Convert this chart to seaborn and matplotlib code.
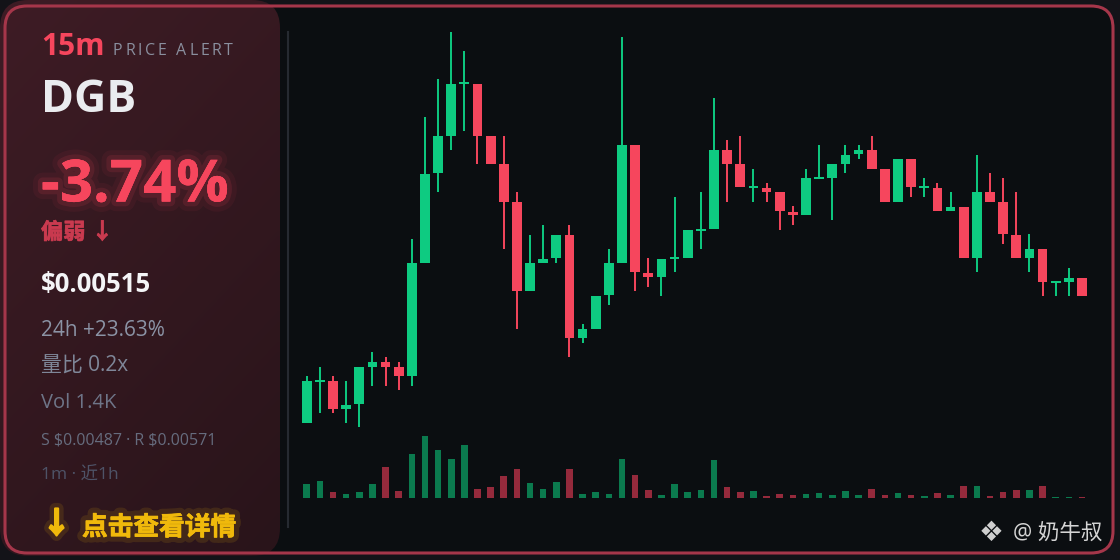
import numpy as np
import pandas as pd
import seaborn as sns
import matplotlib.pyplot as plt
import matplotlib.patheffects as pe
from matplotlib import font_manager as fm
from matplotlib.patches import FancyBboxPatch

# 60 根 15m K线 (开/高/低/收) 与成交量
opens = [0.004832, 0.004936, 0.004938, 0.004868, 0.004879, 0.004973, 0.004984, 0.004972, 0.004950, 0.005233,
         0.005457, 0.005551, 0.005679, 0.005680, 0.005550, 0.005479, 0.005385, 0.005162, 0.005233, 0.005245,
         0.005302, 0.005045, 0.005068, 0.005152, 0.005233, 0.005527, 0.005208, 0.005198, 0.005242, 0.005245,
         0.005313, 0.005317, 0.005515, 0.005480, 0.005419, 0.005421, 0.005409, 0.005361, 0.005352, 0.005442,
         0.005446, 0.005480, 0.005504, 0.005515, 0.005468, 0.005386, 0.005492, 0.005420, 0.005421, 0.005362,
         0.005373, 0.005245, 0.005409, 0.005386, 0.005302, 0.005245, 0.005268, 0.005183, 0.005186, 0.005196]
highs = [0.004950, 0.004973, 0.004950, 0.004938, 0.004973, 0.005009, 0.004997, 0.004984, 0.005292, 0.005598,
         0.005692, 0.005810, 0.005762, 0.005680, 0.005550, 0.005550, 0.005409, 0.005302, 0.005327, 0.005302,
         0.005327, 0.005080, 0.005150, 0.005268, 0.005798, 0.005527, 0.005245, 0.005243, 0.005398, 0.005314,
         0.005409, 0.005645, 0.005539, 0.005551, 0.005468, 0.005432, 0.005409, 0.005374, 0.005468, 0.005527,
         0.005480, 0.005527, 0.005527, 0.005551, 0.005468, 0.005492, 0.005492, 0.005444, 0.005432, 0.005409,
         0.005373, 0.005503, 0.005457, 0.005444, 0.005409, 0.005304, 0.005268, 0.005184, 0.005221, 0.005196]
lows = [0.004832, 0.004857, 0.004858, 0.004832, 0.004822, 0.004926, 0.004926, 0.004915, 0.004926, 0.005233,
        0.005409, 0.005515, 0.005563, 0.005480, 0.005480, 0.005268, 0.005068, 0.005162, 0.005233, 0.005233,
        0.004997, 0.005033, 0.005068, 0.005127, 0.005233, 0.005162, 0.005173, 0.005150, 0.005210, 0.005245,
        0.005268, 0.005317, 0.005386, 0.005422, 0.005386, 0.005386, 0.005315, 0.005327, 0.005352, 0.005442,
        0.005339, 0.005457, 0.005492, 0.005468, 0.005386, 0.005386, 0.005398, 0.005398, 0.005362, 0.005362,
        0.005245, 0.005209, 0.005386, 0.005281, 0.005245, 0.005209, 0.005150, 0.005150, 0.005150, 0.005150]
closes = [0.004938, 0.004937, 0.004868, 0.004878, 0.004973, 0.004984, 0.004973, 0.004950, 0.005232, 0.005456,
          0.005550, 0.005680, 0.005680, 0.005551, 0.005480, 0.005386, 0.005162, 0.005232, 0.005243, 0.005302,
          0.005045, 0.005067, 0.005150, 0.005232, 0.005527, 0.005210, 0.005198, 0.005243, 0.005243, 0.005314,
          0.005314, 0.005515, 0.005480, 0.005422, 0.005420, 0.005411, 0.005362, 0.005352, 0.005444, 0.005443,
          0.005480, 0.005503, 0.005515, 0.005468, 0.005386, 0.005492, 0.005422, 0.005421, 0.005362, 0.005373,
          0.005245, 0.005409, 0.005386, 0.005304, 0.005245, 0.005268, 0.005186, 0.005184, 0.005196, 0.005150]
volumes = [137, 163, 53, 37, 57, 137, 307, 63, 437, 617, 473, 383, 523, 83, 110, 213, 287, 150, 83, 153,
           287, 37, 53, 37, 383, 227, 80, 27, 140, 53, 73, 377, 103, 53, 63, 13, 37, 23, 40, 43,
           27, 67, 30, 87, 27, 47, 27, 17, 47, 27, 113, 120, 17, 60, 73, 73, 120, 7, 10, 7]

# 左侧信息栏文字
interval = '15m'
alert_label = 'PRICE ALERT'
symbol = 'DGB'
change_text = '-3.74%'
mood_text = '偏弱 ↓'
price_text = '$0.00515'
info_lines = ['24h +23.63%', '量比 0.2x', 'Vol 1.4K', 'S $0.00487 · R $0.00571', '1m · 近1h']
cta_text = '点击查看详情'
watermark = '@ 奶牛叔'

UP = '#0ecb81'
DOWN = '#f6465d'
VOL_UP = '#0b7a4e'
VOL_DOWN = '#952a3c'
YELLOW = '#f0b90b'

sns.set_theme(style='dark', rc={'axes.facecolor': '#0b0e11', 'figure.facecolor': '#131318'})


def has_bold(name):
    for f in fm.fontManager.ttflist:
        if f.name != name:
            continue
        w = f.weight if isinstance(f.weight, int) else fm.weight_dict.get(f.weight, 400)
        if w >= 600:
            return True
    return False


latin = next((n for n in ['Noto Sans', 'Open Sans', 'Roboto', 'Lato', 'DejaVu Sans'] if has_bold(n)), 'DejaVu Sans')
cjk_bold = has_bold('Noto Sans CJK SC')
plt.rcParams['font.family'] = [latin, 'Noto Sans CJK SC', 'DejaVu Sans']
plt.rcParams['text.parse_math'] = False

df = pd.DataFrame({'open': opens, 'high': highs, 'low': lows, 'close': closes, 'vol': volumes})
df['idx'] = np.arange(len(df))
df['dir'] = np.where(df['close'] >= df['open'], 'up', 'down')
pal = {'up': UP, 'down': DOWN}
vpal = {'up': VOL_UP, 'down': VOL_DOWN}

W, H = 1120, 560
fig = plt.figure(figsize=(W / 100, H / 100), dpi=100)

# 背景层（像素坐标）
bg = fig.add_axes([0, 0, 1, 1])
bg.set_xlim(0, W)
bg.set_ylim(H, 0)
bg.axis('off')

inner = FancyBboxPatch((5, 6), 1108, 547, boxstyle='round,pad=0,rounding_size=22',
                       fc='#0b0e11', ec='none', zorder=0)
bg.add_patch(inner)

panel = FancyBboxPatch((0, 0), 280, 556, boxstyle='round,pad=0,rounding_size=28',
                       fc='none', ec='none', zorder=1)
bg.add_patch(panel)
gx, gy = np.meshgrid(np.linspace(0, 1, 60), np.linspace(0, 1, 120))
t = 0.35 * gx + 0.65 * gy
c0 = np.array([0x3e, 0x1c, 0x25]) / 255
c1 = np.array([0x29, 0x14, 0x1a]) / 255
grad = c0[None, None, :] * (1 - t[..., None]) + c1[None, None, :] * t[..., None]
im = bg.imshow(grad, extent=[0, 280, 556, 0], aspect='auto', zorder=1, interpolation='bilinear')
im.set_clip_path(panel)
bg.set_xlim(0, W)
bg.set_ylim(H, 0)

border = FancyBboxPatch((5, 6), 1108, 547, boxstyle='round,pad=0,rounding_size=22',
                        fc='none', ec='#a5364a', lw=2.2, zorder=5)
bg.add_patch(border)


def faux_bold(color, extra=None):
    # 中文字体没有粗体时用细描边加粗
    eff = list(extra or [])
    if not cjk_bold:
        eff.append(pe.withStroke(linewidth=0.5, foreground=color))
    else:
        eff.append(pe.Normal())
    return eff


# 文字
bg.text(41, 55, interval, fontsize=21.5, fontweight='bold', color=DOWN, zorder=6)

renderer = fig.canvas.get_renderer()


def tracked(x, y, s, end_x, **kw):
    # 逐字放置，模拟字间距
    widths = []
    for ch in s:
        tt = bg.text(0, 0, ch, **kw)
        widths.append(tt.get_window_extent(renderer).width if ch != ' ' else kw['fontsize'] * 0.35)
        tt.remove()
    gap = (end_x - x - sum(widths)) / (len(s) - 1)
    cx = x
    for ch, w in zip(s, widths):
        bg.text(cx, y, ch, zorder=6, **kw)
        cx += w + gap


tracked(113, 55, alert_label, 233, fontsize=11.5, color='#8a8f9e')

bg.text(41, 111.5, symbol, fontsize=32, fontweight='bold', color='#eaecef', zorder=6)
bg.text(41, 201.5, change_text, fontsize=42, fontweight='bold', color=DOWN, zorder=6,
        path_effects=[pe.withStroke(linewidth=14, foreground=DOWN, alpha=0.06),
                      pe.withStroke(linewidth=7, foreground=DOWN, alpha=0.12),
                      pe.Normal()])
bg.text(41, 239, mood_text, fontsize=16, fontweight='bold', color='#c93a4f', zorder=6,
        path_effects=faux_bold('#c93a4f'))
bg.text(41, 292, price_text, fontsize=18.5, fontweight='bold', color='#f4f5f7', zorder=6)

info_y = [336, 372, 408, 444, 480]
info_size = [15, 15, 14.5, 11.5, 12.5]
info_col = ['#8b93a5', '#7f8799', '#6e7588', '#666c7e', '#4e5367']
for s, yy, fs, cc in zip(info_lines, info_y, info_size, info_col):
    bg.text(41, yy, s, fontsize=fs, color=cc, zorder=6)

glow = [pe.withStroke(linewidth=8, foreground=YELLOW, alpha=0.12)]
bg.text(42, 533, '↓', fontsize=21, fontweight='bold', color=YELLOW, zorder=6,
        path_effects=glow + [pe.withStroke(linewidth=1.6, foreground=YELLOW)])
bg.text(82, 535, cta_text, fontsize=18.5, fontweight='bold', color=YELLOW, zorder=6,
        path_effects=faux_bold(YELLOW, glow))

bg.text(979, 541, '❖', fontsize=20, color='#cfcfcf', family=['DejaVu Sans'], zorder=6)
bg.text(1013, 540, watermark, fontsize=15.5, color='#d5d5d5', zorder=6)

# K线区域
rect = [288 / W, (H - 527) / H, 812 / W, 495 / H]
xlim = (-1.42, 60.37)

axv = fig.add_axes(rect)
axv.set_facecolor('none')
sns.barplot(data=df, x='idx', y='vol', hue='dir', palette=vpal, native_scale=True,
            width=0.5, saturation=1, errorbar=None, legend=False, ax=axv,
            edgecolor='none', linewidth=0)
axv.set_xlim(*xlim)
axv.set_ylim(-293, 4657)
axv.axis('off')

ax = fig.add_axes(rect)
ax.set_facecolor('none')
cols = df['dir'].map(pal)
ax.vlines(df['idx'], df['low'], df['high'], colors=cols, lw=1.4, zorder=2)
body_min = 0.000005
body_h = np.maximum((df['close'] - df['open']).abs(), body_min)
body_b = np.minimum(df['open'], df['close'])
ax.bar(df['idx'], body_h, bottom=body_b, width=0.74, color=cols, edgecolor='none', linewidth=0, zorder=3)
ax.set_xlim(*xlim)
ax.set_ylim(0.0045725, 0.00581)
ax.set_xticks([])
ax.set_yticks([])
ax.grid(False)
for side in ['top', 'right', 'bottom']:
    ax.spines[side].set_visible(False)
ax.spines['left'].set_color('#262a31')
ax.spines['left'].set_linewidth(1.5)

fig.savefig('out.png', dpi=100, facecolor=fig.get_facecolor())
